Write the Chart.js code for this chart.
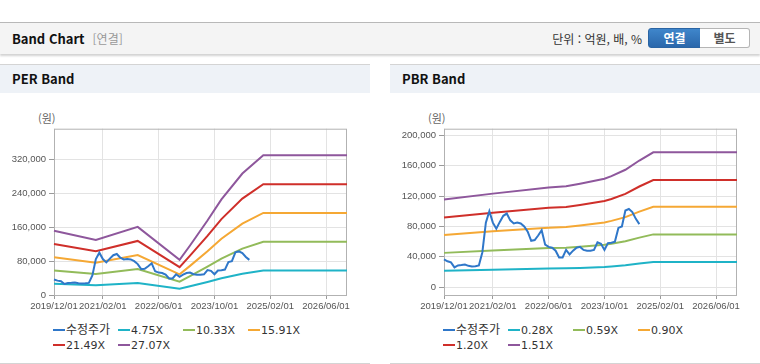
<!DOCTYPE html>
<html lang="ko">
<head>
<meta charset="utf-8">
<script src="https://cdn.jsdelivr.net/npm/chart.js@4.4.0/dist/chart.umd.min.js"></script>
<style>
  body { margin: 0; width: 760px; height: 364px; background: #fff; position: relative; overflow: hidden;
         font-family: 'Noto Sans CJK KR', Arial, sans-serif; color: #222; }
  .top { position: absolute; left: 0; top: 22px; width: 760px; height: 31px; background: #f4f4f4;
         border-top: 1px solid #b8b8b8; box-shadow: 0 2px 2px rgba(0,0,0,.18); }
  .top .title { position: absolute; left: 12px; top: 0; line-height: 31px; font-size: 13px; font-weight: bold; color: #111; }
  .top .sub { color: #999; font-weight: normal; font-size: 12px; margin-left: 8px; }
  .top .unit { position: absolute; right: 118px; top: 0; line-height: 31px; font-size: 12px; color: #333; }
  .btn { position: absolute; top: 5px; height: 18px; line-height: 18px; font-size: 12px; font-weight: bold; text-align: center; }
  .btn.on { left: 648px; width: 51px; background: linear-gradient(#3f86cb, #2a67ab); color: #fff;
            border: 1px solid #2a64a3; border-radius: 3px 0 0 3px; }
  .btn.off { left: 700px; width: 49px; background: #fff; color: #555; border: 1px solid #b5b5b5;
             border-left: none; border-radius: 0 3px 3px 0; }
  .panel { position: absolute; top: 64px; width: 370px; height: 298px; border-top: 1px solid #d4d4d4;
           border-bottom: 1px solid #d4d4d4; }
  .panel h3 { margin: 0; height: 28px; line-height: 28px; background: #eef2f7; font-size: 13px;
              font-weight: bold; padding-left: 12px; color: #111; }
  .unitlbl { position: absolute; top: 110px; font-size: 11px; color: #666; }
  .box { position: absolute; top: 120px; width: 370px; height: 195px; }
  .legend { position: absolute; top: 321px; width: 270px; font-size: 11px; font-family: 'DejaVu Sans', 'Noto Sans CJK KR', sans-serif; color: #333; }
  .legend span { display: inline-block; width: 65px; height: 15px; line-height: 15px; white-space: nowrap; }
  .legend i { display: inline-block; width: 12px; height: 2px; vertical-align: middle; margin-right: 1px; position: relative; top: -1px; }
  .legend b { font-weight: normal; font-family: 'Noto Sans CJK KR', sans-serif; font-size: 12px; }
</style>
</head>
<body>

<div class="top">
  <div class="title">Band Chart<span class="sub">[연결]</span></div>
  <div class="unit">단위 : 억원, 배, %</div>
  <div class="btn on">연결</div>
  <div class="btn off">별도</div>
</div>

<div class="panel" style="left:0"><h3>PER Band</h3></div>
<div class="panel" style="left:390px"><h3>PBR Band</h3></div>

<div class="unitlbl" style="left:38px">(원)</div>
<div class="unitlbl" style="left:428px">(원)</div>

<div class="box" style="left:0"><canvas id="perChart" width="370" height="195"></canvas></div>
<div class="box" style="left:390px"><canvas id="pbrChart" width="370" height="195"></canvas></div>

<div class="legend" id="perLegend" style="left:53px"></div>
<div class="legend" id="pbrLegend" style="left:443px"></div>

<script>
// --- 데이터 ---
// 월별 x축 (2019/12 ~ 2026/12)
const months = [];
for (let y = 2019, m = 12; y < 2027; ) {
    months.push(y + '/' + String(m).padStart(2, '0') + '/01');
    m++;
    if (m > 12) { m = 1; y++; }
}
const xTickLabels = ['2019/12/01', '2021/02/01', '2022/06/01', '2023/10/01', '2025/02/01', '2026/06/01'];
const perYTicks = [0, 80000, 160000, 240000, 320000];
const pbrYTicks = [0, 40000, 80000, 120000, 160000, 200000];

// 수정주가 (월별, 2019/12 부터)
const price = [36500, 34000, 32500, 26000, 28500, 29000, 29700, 28000, 27000, 27500,
               28500, 46000, 85000, 100000, 85000, 77000, 86000, 94000, 97000, 88000,
               84000, 85000, 84000, 80000, 73000, 61000, 62000, 68000, 75000, 56000,
               53000, 52000, 48000, 39000, 39000, 49000, 43000, 48000, 52000, 53000,
               49000, 48000, 48000, 49000, 59000, 57000, 49000, 58000, 58600, 60000,
               78000, 80000, 101000, 103000, 99000, 90000, 83000];

// PER 밴드
const perDates = ['2019/12/01', '2020/12/01', '2021/12/01', '2022/12/01', '2023/03/01', '2023/08/01',
                  '2023/12/01', '2024/06/01', '2024/12/01', '2026/12/01'];
const per475  = [26700, 22800, 28300, 14600, 20500, 30900, 39700, 50400, 57900, 57900];
const per1033 = [58000, 49600, 61400, 31700, 44600, 67200, 86200, 109500, 125900, 125900];
const per1591 = [89300, 76400, 94600, 48800, 68800, 103400, 132800, 168700, 193900, 193900];
const per2149 = [120700, 103200, 127800, 65900, 92900, 139700, 179400, 227800, 262000, 262000];
const per2707 = [152000, 130000, 161000, 83000, 117000, 176000, 226000, 287000, 330000, 330000];

// PBR 밴드
const pbrDates = ['2019/12/01', '2021/02/01', '2022/06/01', '2022/11/01', '2023/03/01', '2023/10/01',
                  '2023/12/01', '2024/04/01', '2024/08/01', '2024/12/01', '2026/12/01'];
const pbr028 = [21400, 22900, 24400, 24700, 25300, 26500, 27100, 28700, 31000, 33000, 33000];
const pbr059 = [45100, 48200, 51400, 52000, 53300, 55900, 57200, 60500, 65200, 69500, 69500];
const pbr090 = [68800, 73500, 78400, 79300, 81300, 85200, 87300, 92300, 99500, 106000, 106000];
const pbr120 = [91700, 98000, 104500, 105700, 108400, 113600, 116300, 123000, 132700, 141300, 141300];
const pbr151 = [115400, 123300, 131500, 133000, 136400, 143000, 146400, 154800, 167000, 177800, 177800];

const colors = ['#2f77c9', '#1fb3c7', '#92bb5a', '#f5a834', '#cf2f2a', '#8e579c'];

// 플롯 영역 테두리
const frame = {
    id: 'frame',
    beforeDatasetsDraw(chart) {
        const a = chart.chartArea, ctx = chart.ctx;
        ctx.save();
        ctx.strokeStyle = '#b2b2b2';
        ctx.lineWidth = 1;
        ctx.strokeRect(a.left + 0.5, a.top + 0.5, a.right - a.left - 1, a.bottom - a.top);
        ctx.restore();
    }
};

function pairs(dates, vals) {
    return dates.map((d, i) => ({ x: d, y: vals[i] }));
}

function makeChart(id, names, bands, dates, yMin, yMax, yTicks) {
    const datasets = [{ label: names[0], data: price, borderColor: colors[0] }];
    bands.forEach((b, i) => datasets.push({ label: names[i + 1], data: pairs(dates, b), borderColor: colors[i + 1] }));

    return new Chart(document.getElementById(id), {
        type: 'line',
        data: { labels: months, datasets },
        options: {
            responsive: false,
            animation: false,
            devicePixelRatio: 1,
            layout: { padding: { top: 8, right: 23, left: 0, bottom: 0 } },
            elements: { point: { radius: 0 }, line: { borderWidth: 2, tension: 0 } },
            plugins: { legend: { display: false }, tooltip: { enabled: false } },
            scales: {
                x: {
                    type: 'category',
                    border: { display: false },
                    grid: { color: '#e3e3e3', tickColor: '#9a9a9a', tickLength: 4 },
                    ticks: { autoSkip: false, maxRotation: 0, padding: 2, color: '#555', font: { family: 'Arial', size: 9.5 } },
                    afterBuildTicks: axis => { axis.ticks = axis.ticks.filter(t => xTickLabels.includes(months[t.value])); },
                    afterFit: s => { s.height = 20; }
                },
                y: {
                    type: 'linear',
                    min: yMin,
                    max: yMax,
                    border: { display: false },
                    grid: { color: '#e3e3e3', tickColor: '#9a9a9a', tickLength: 5 },
                    ticks: { autoSkip: false, padding: 3, color: '#555', font: { family: 'Arial', size: 9.5 },
                             callback: v => Number(v).toLocaleString('en-US') },
                    afterBuildTicks: axis => { axis.ticks = yTicks.map(v => ({ value: v })); },
                    afterFit: s => { s.width = 54; }
                }
            }
        },
        plugins: [frame]
    });
}

function makeLegend(id, names) {
    document.getElementById(id).innerHTML = names.map((n, i) =>
        `<span><i style="background:${colors[i]}"></i>${i === 0 ? '<b>' + n + '</b>' : n}</span>`
    ).join('');
}

const perNames = ['수정주가', '4.75X', '10.33X', '15.91X', '21.49X', '27.07X'];
const pbrNames = ['수정주가', '0.28X', '0.59X', '0.90X', '1.20X', '1.51X'];

makeChart('perChart', perNames, [per475, per1033, per1591, per2149, per2707], perDates, 0, 393000, perYTicks);
makeChart('pbrChart', pbrNames, [pbr028, pbr059, pbr090, pbr120, pbr151], pbrDates, -10500, 209000, pbrYTicks);
makeLegend('perLegend', perNames);
makeLegend('pbrLegend', pbrNames);
</script>
</body>
</html>
